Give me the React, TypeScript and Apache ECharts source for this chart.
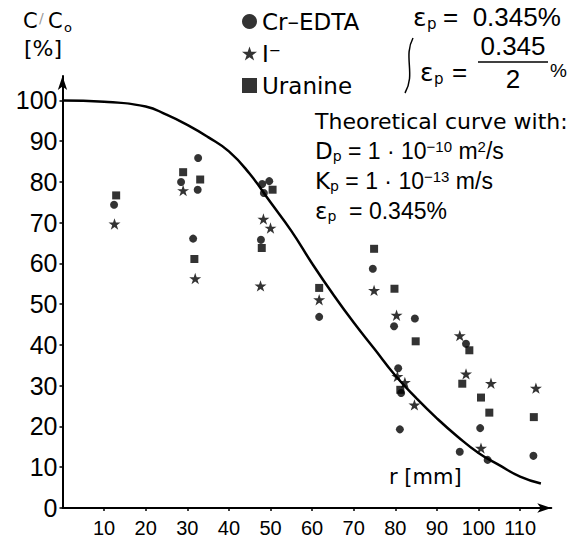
import React, { useEffect, useRef } from "react";
import * as echarts from "echarts";

// ---- tick values ----
const xTickValues = [10, 20, 30, 40, 50, 60, 70, 80, 90, 100, 110];
const yTickValues = [0, 10, 20, 30, 40, 50, 60, 70, 80, 90, 100];

// ---- theoretical curve (r [mm], C/C0 [%]) ----
const curveR = [0, 10, 20, 25, 30, 35, 40, 45, 50, 55, 60, 65, 70, 75, 80, 85, 90, 95, 100, 105, 110, 115];
const curveC = [100, 99.7, 98.5, 96.5, 94, 91, 87.5, 82, 75, 68, 60, 52.5, 45.5, 39, 32.5, 27, 22, 17.5, 13.5, 10.5, 7.7, 6];

// ---- measurements ----
const crEdtaR = [12.4, 28.5, 32.6, 32.5, 31.4, 48.0, 49.7, 48.4, 47.7, 61.7, 74.6, 79.7, 84.7, 80.7, 81.4, 81.1, 97.0, 100.4, 95.5, 102.2, 113.2];
const crEdtaC = [74.4, 80.0, 85.9, 78.1, 66.1, 79.5, 80.2, 77.3, 65.8, 46.9, 58.7, 44.6, 46.5, 34.3, 28.2, 19.3, 40.3, 19.6, 13.8, 11.8, 12.8];

const iodideR = [12.5, 29.0, 31.9, 48.3, 50.0, 47.6, 61.7, 74.9, 80.3, 80.5, 82.3, 84.6, 95.5, 97.0, 103.0, 100.6, 113.8];
const iodideC = [69.7, 77.9, 56.3, 70.9, 68.7, 54.5, 51.1, 53.4, 47.3, 32.3, 30.8, 25.3, 42.3, 32.9, 30.6, 14.7, 29.4];

const uranineR = [12.9, 29.0, 33.1, 31.7, 50.5, 47.9, 61.7, 74.9, 79.8, 84.9, 81.2, 97.8, 96.1, 100.6, 102.6, 113.3];
const uranineC = [76.7, 82.4, 80.6, 61.1, 78.1, 63.8, 54.0, 63.6, 53.8, 40.9, 29.0, 38.7, 30.5, 27.1, 23.4, 22.3];

const zip = (a: number[], b: number[]) => a.map((v, i) => [v, b[i]]);

const STAR =
  "path://M50,0 L61.8,35.1 L98.9,35.1 L69,57.3 L80.3,92.7 L50,71 L19.7,92.7 L31,57.3 L1.1,35.1 L38.2,35.1 Z";

const FONT = '"DejaVu Sans"';
const NUM = '"Liberation Sans"';

const rich = {
  t: { fontSize: 23, fontFamily: FONT, color: "#000", lineHeight: 24 },
  n: { fontSize: 23, fontFamily: NUM, color: "#000", lineHeight: 24 },
  sub: { fontSize: 14, fontFamily: FONT, color: "#000", verticalAlign: "bottom", lineHeight: 14 },
  sup: { fontSize: 15, fontFamily: NUM, color: "#000", verticalAlign: "top", lineHeight: 15 },
};

const rtext = (text: string, x: number, y: number) => ({
  type: "text",
  silent: true,
  style: { text, x, y, rich, verticalAlign: "middle", align: "left", fill: "#000" },
});

const ptext = (
  text: string,
  x: number,
  y: number,
  size: number,
  family = FONT,
  align = "left",
  fill = "#000"
) => ({
  type: "text",
  silent: true,
  style: { text, x, y, font: `${size}px ${family}`, fill, verticalAlign: "middle", align },
});

export default function App() {
  const ref = useRef<HTMLDivElement>(null);
  useEffect(() => {
    if (!ref.current) return;
    const chart = echarts.init(ref.current, undefined, { renderer: "svg" });
    chart.setOption({
      animation: false,
      backgroundColor: "#fff",
      grid: { left: 62.5, right: 22.7, top: 76, bottom: 37, containLabel: false },
      legend: {
        orient: "vertical",
        left: 237,
        top: 4,
        itemWidth: 15,
        itemHeight: 15,
        itemGap: 7,
        textStyle: { fontSize: 23, fontFamily: FONT, color: "#000", lineHeight: 25 },
        data: [
          { name: "Cr–EDTA", icon: "circle" },
          { name: "I⁻", icon: STAR },
          { name: "Uranine", icon: "rect" },
        ],
      },
      xAxis: {
        type: "value",
        min: 0,
        max: 117.5,
        splitLine: { show: false },
        axisLine: {
          lineStyle: { color: "#000", width: 2 },
          symbol: ["none", "arrow"],
          symbolSize: [7, 14],
        },
        axisTick: { customValues: xTickValues, length: 3, lineStyle: { color: "#000", width: 1.5 } },
        axisLabel: { customValues: xTickValues, fontSize: 20, fontFamily: NUM, color: "#000", margin: 10 },
      },
      yAxis: {
        type: "value",
        min: 0,
        max: 106,
        splitLine: { show: false },
        axisLine: {
          lineStyle: { color: "#000", width: 2 },
          symbol: ["none", "arrow"],
          symbolSize: [7, 14],
        },
        axisTick: { customValues: yTickValues, length: 3, lineStyle: { color: "#000", width: 1.5 } },
        axisLabel: { customValues: yTickValues, fontSize: 25, fontFamily: NUM, color: "#000", margin: 5 },
      },
      series: [
        {
          name: "Theoretical curve",
          type: "line",
          data: zip(curveR, curveC),
          smooth: true,
          showSymbol: false,
          lineStyle: { color: "#000", width: 2.5 },
          z: 1,
        },
        {
          name: "Cr–EDTA",
          type: "scatter",
          symbol: "circle",
          symbolSize: 8,
          itemStyle: { color: "#000" },
          data: zip(crEdtaR, crEdtaC),
          z: 3,
        },
        {
          name: "I⁻",
          type: "scatter",
          symbol: STAR,
          symbolKeepAspect: true,
          symbolSize: 12,
          itemStyle: { color: "#000" },
          data: zip(iodideR, iodideC),
          z: 3,
        },
        {
          name: "Uranine",
          type: "scatter",
          symbol: "rect",
          symbolSize: 8,
          itemStyle: { color: "#000" },
          data: zip(uranineR, uranineC),
          z: 3,
        },
      ],
      graphic: [
        // y-axis title
        ptext("C", 23, 21, 21),
        ptext("/", 39, 18, 14, FONT, "left", "#999"),
        ptext("C", 48, 21, 21),
        ptext("o", 64, 27, 13),
        ptext("[%]", 24, 48, 22),
        // epsilon, first line
        ptext("ε", 413, 17, 25),
        ptext("p", 427, 24, 15),
        ptext("=  0.345%", 443, 17, 26, NUM),
        // brace
        {
          type: "bezierCurve",
          silent: true,
          shape: { x1: 413, y1: 38, cpx1: 403, cpy1: 57, cpx2: 416, cpy2: 74, x2: 405, y2: 93 },
          style: { stroke: "#000", lineWidth: 1.5, fill: "none" },
        },
        // epsilon, second line
        ptext("ε", 420, 72, 25),
        ptext("p", 434, 79, 15),
        ptext("=", 452, 72, 26, NUM),
        ptext("0.345", 513, 46, 26, NUM, "center"),
        {
          type: "line",
          silent: true,
          shape: { x1: 478, y1: 62, x2: 548, y2: 62 },
          style: { stroke: "#000", lineWidth: 1.5 },
        },
        ptext("2", 513, 79, 26, NUM, "center"),
        ptext("%", 550, 70, 19, NUM),
        // theoretical curve parameters
        ptext("Theoretical curve with:", 315, 121, 22),
        rtext("{t|D}{sub|p}{n| = 1 · 10}{sup|−10}{n| m}{sup|2}{n|/s}", 315, 151),
        rtext("{t|K}{sub|p}{n| = 1 · 10}{sup|−13}{n| m/s}", 315, 181),
        rtext("{t|ε}{sub|p}{n|  = 0.345%}", 315, 211),
        ptext("r [mm]", 389, 477, 21),
      ],
    });
    return () => chart.dispose();
  }, []);
  return (
    <div
      ref={ref}
      style={{ position: "fixed", left: 0, top: 0, width: 574, height: 545, background: "#fff" }}
    />
  );
}
